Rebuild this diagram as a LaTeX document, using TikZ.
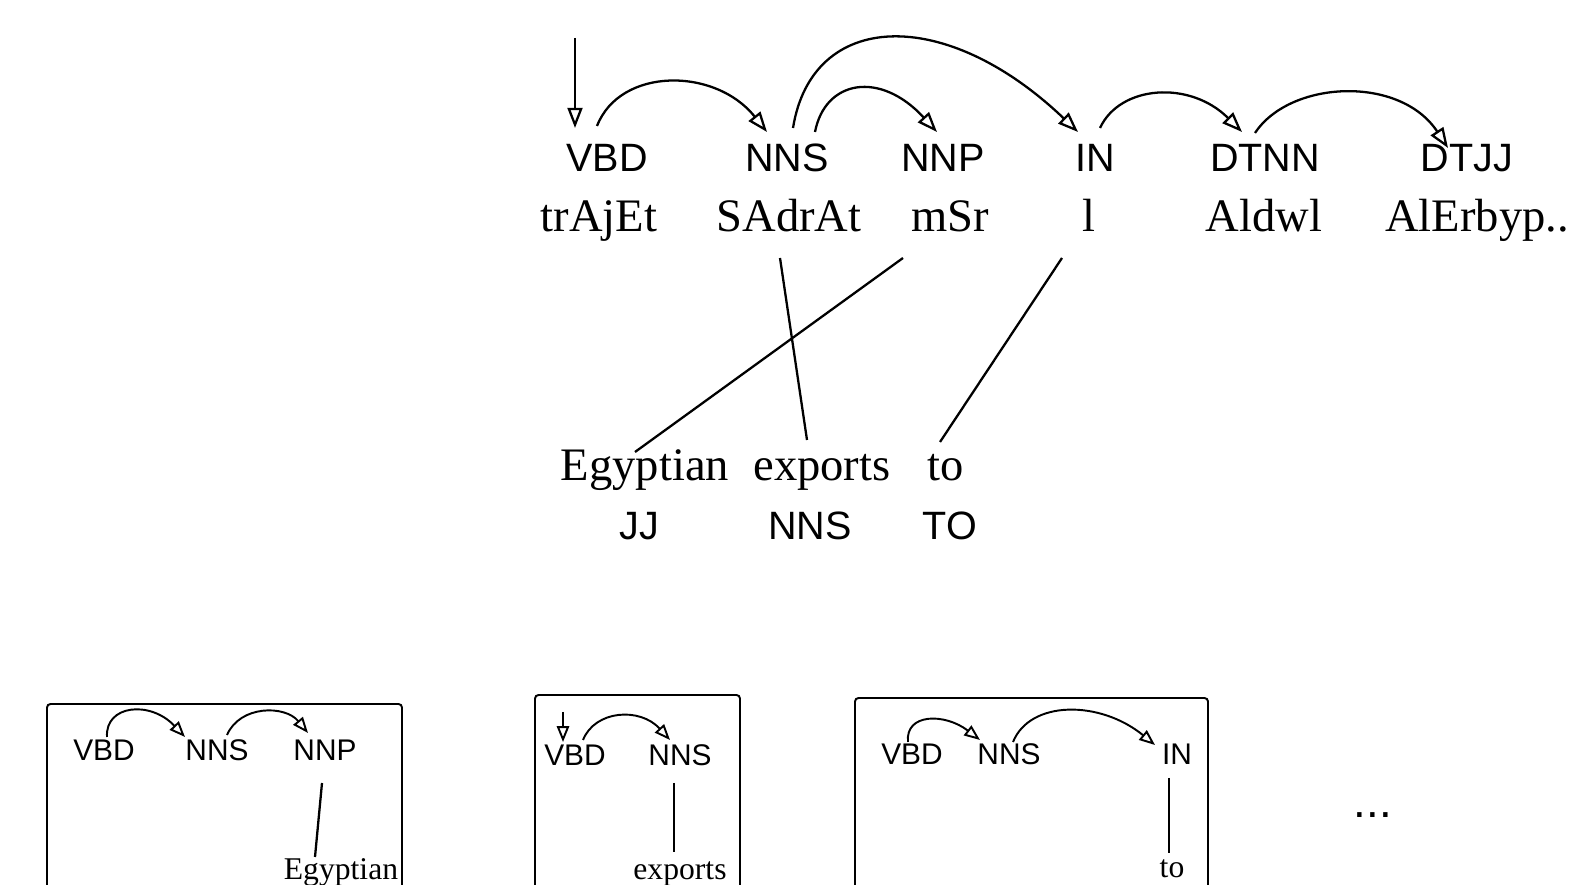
\documentclass[tikz,border=0pt]{standalone}
\usepackage{fontspec}
\setmainfont{Liberation Serif}
\setsansfont{Liberation Sans}
\usetikzlibrary{arrows.meta}
\tikzset{
  tagnode/.style   ={anchor=base, inner sep=0pt, font=\sffamily\fontsize{22.5}{27}\selectfont},
  wordnode/.style  ={anchor=base, inner sep=0pt, font=\fontsize{26.5}{32}\selectfont},
  smalltag/.style  ={anchor=base, inner sep=0pt, font=\sffamily\fontsize{17}{20}\selectfont},
  smallword/.style ={anchor=base, inner sep=0pt, font=\fontsize{18}{22}\selectfont},
  deparr/.style    ={-{Triangle[open,length=11.5pt,width=8.5pt]}, line width=1.3pt},
  smallarr/.style  ={-{Triangle[open,length=9pt,width=7pt]}, line width=1.1pt},
  alignline/.style ={line width=1.3pt},
  boxframe/.style  ={line width=1.1pt, rounded corners=2pt},
}
\begin{document}
\begin{tikzpicture}[x=0.2mm,y=0.2mm]
        \useasboundingbox (0,0) rectangle (1574,885);
        \node[tagnode] (vbd)  at (607,713)  {VBD};
        \node[tagnode] (nns)  at (787,713)  {NNS};
        \node[tagnode] (nnp)  at (943,713)  {NNP};
        \node[tagnode] (inp)  at (1095,713) {IN};
        \node[tagnode] (dtnn) at (1265,713) {DTNN};
        \node[tagnode] (dtjj) at (1467,713) {DTJJ};
        \node[wordnode] (trajet) at (599,653)  {trAjEt};
        \node[wordnode] (sadrat) at (789,653)  {SAdrAt};
        \node[wordnode] (msr)    at (950,653)  {mSr};
        \node[wordnode] (lword)  at (1089,653) {l};
        \node[wordnode] (aldwl)  at (1264,653) {Aldwl};
        \node[wordnode,anchor=base west] (alerbyp) at (1385,653) {AlErbyp..};
        \coordinate (root) at (575,847);
        \draw[deparr] (root) -- ([shift={(-32,44)}]vbd.base);
        \draw[deparr] ([shift={(-10,46)}]vbd.base) .. controls (620,818) and (715,818) .. ([shift={(-20,40)}]nns.base);
        \draw[deparr] ([shift={(6,44)}]nns.base) .. controls (812,875) and (945,880) .. ([shift={(-17,40)}]inp.base);
        \draw[deparr] ([shift={(28,40)}]nns.base) .. controls (825,805) and (880,815) .. ([shift={(-6,40)}]nnp.base);
        \draw[deparr] ([shift={(5,44)}]inp.base) .. controls (1120,800) and (1190,805) .. ([shift={(-23,40)}]dtnn.base);
        \draw[deparr] ([shift={(-10,39)}]dtnn.base) .. controls (1290,805) and (1400,810) .. ([shift={(-19,24)}]dtjj.base);
        \node[wordnode] (egyptian) at (645,404) {Egyptian};
        \node[wordnode] (exports)  at (822,404) {exports};
        \node[wordnode] (wto)      at (946,404) {to};
        \node[tagnode] (jj)   at (639,345) {JJ};
        \node[tagnode] (enns) at (810,345) {NNS};
        \node[tagnode] (eto)  at (950,345) {TO};
        \draw[alignline] ([shift={(-9,-26)}]sadrat.base) -- ([shift={(-15,41)}]exports.base);
        \draw[alignline] ([shift={(-47,-26)}]msr.base) -- ([shift={(-10,29)}]egyptian.base);
        \draw[alignline] ([shift={(-27,-26)}]lword.base) -- ([shift={(-6,39)}]wto.base);
        \draw[boxframe] (47,0) -- (47,181) -- (402,181) -- (402,0);
        \node[smalltag] (avbd) at (104,124) {VBD};
        \node[smalltag] (anns) at (217,124) {NNS};
        \node[smalltag] (annp) at (325,124) {NNP};
        \node[smallword] (aegy) at (341,5) {Egyptian};
        \draw[smallarr] ([shift={(3,24)}]avbd.base) .. controls (105,180) and (150,185) .. ([shift={(-32,24)}]anns.base);
        \draw[smallarr] ([shift={(10,26)}]anns.base) .. controls (240,180) and (285,180) .. ([shift={(-17,28)}]annp.base);
        \draw[alignline] ([shift={(-3,-22)}]annp.base) -- ([shift={(-26,23)}]aegy.base);
        \draw[boxframe] (535,0) -- (535,190) -- (740,190) -- (740,0);
        \node[smalltag] (bvbd) at (575,119) {VBD};
        \node[smalltag] (bnns) at (680,119) {NNS};
        \node[smallword] (bexp) at (680,5) {exports};
        \coordinate (broot) at (563,173);
        \draw[smallarr] (broot) -- ([shift={(-12,24)}]bvbd.base);
        \draw[smallarr] ([shift={(8,26)}]bvbd.base) .. controls (595,175) and (640,178) .. ([shift={(-10,26)}]bnns.base);
        \draw[alignline] ([shift={(-6,-17)}]bnns.base) -- ([shift={(-6,28)}]bexp.base);
        \draw[boxframe] (855,0) -- (855,187) -- (1208,187) -- (1208,0);
        \node[smalltag] (cvbd) at (912,120)  {VBD};
        \node[smalltag] (cnns) at (1009,120) {NNS};
        \node[smalltag] (cin)  at (1177,120) {IN};
        \node[smallword] (cto) at (1172,7) {to};
        \draw[smallarr] ([shift={(-4,23)}]cvbd.base) .. controls (905,172) and (945,172) .. ([shift={(-29,25)}]cnns.base);
        \draw[smallarr] ([shift={(4,23)}]cnns.base) .. controls (1030,185) and (1100,185) .. ([shift={(-22,20)}]cin.base);
        \draw[alignline] ([shift={(-8,-13)}]cin.base) -- ([shift={(-3,25)}]cto.base);
        \node[tagnode,font=\sffamily\fontsize{26}{30}\selectfont] (more) at (1373,67) {...};
      \end{tikzpicture}
\end{document}
